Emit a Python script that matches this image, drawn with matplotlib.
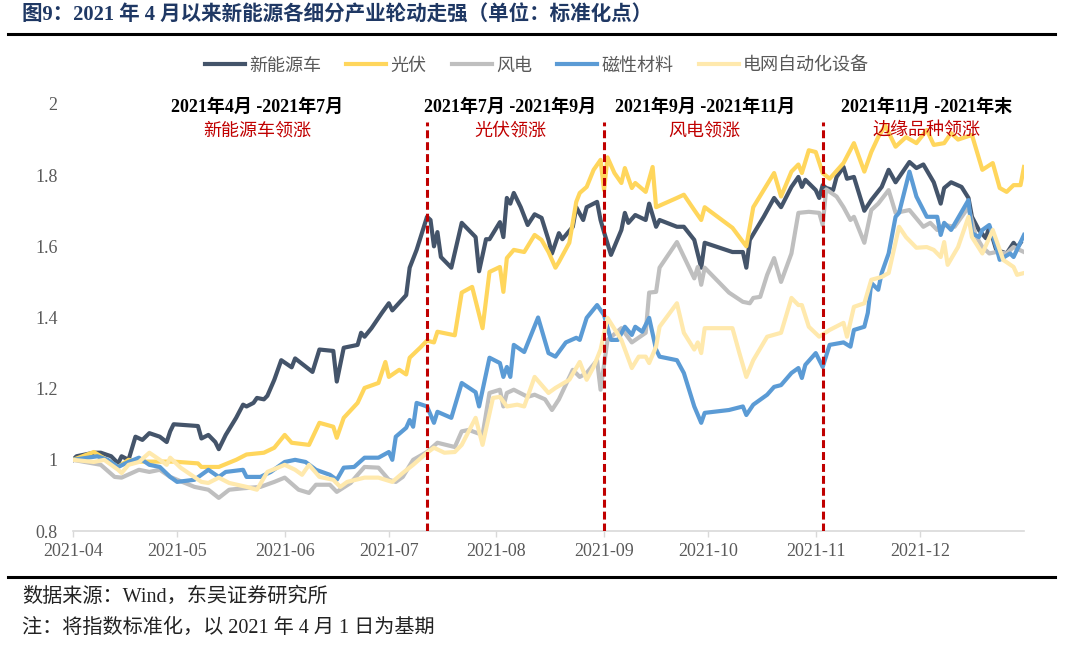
import matplotlib
matplotlib.use('Agg')
import matplotlib.pyplot as plt
import matplotlib.dates as mdates
from matplotlib.lines import Line2D
from matplotlib.ticker import FuncFormatter
import pandas as pd

plt.rcParams['font.family'] = ['Liberation Serif', 'Noto Sans CJK SC']

# standardised index values, (days since 2021-04-01, value)
nev = [(0, 1.00), (1, 1.01), (6, 1.02), (8, 1.02), (11, 1.01), (13, 0.99), (14, 1.01), (16, 1.00),
       (18, 1.065), (20, 1.056), (22, 1.075), (25, 1.065), (27, 1.05), (28, 1.08), (29, 1.10),
       (36, 1.095), (37, 1.06), (39, 1.07), (41, 1.05), (42, 1.03), (44, 1.07), (47, 1.118),
       (49, 1.155), (50, 1.15), (52, 1.16), (53, 1.174), (55, 1.17), (56, 1.18), (58, 1.225),
       (60, 1.28), (63, 1.26), (64, 1.285), (69, 1.247), (71, 1.31), (75, 1.306), (76, 1.22),
       (78, 1.315), (82, 1.323), (83, 1.357), (84, 1.346), (86, 1.37), (89, 1.413), (91, 1.44),
       (92, 1.42), (96, 1.463), (97, 1.54), (99, 1.59), (102, 1.683), (103, 1.674), (104, 1.60),
       (105, 1.64), (106, 1.57), (109, 1.54), (112, 1.666), (116, 1.626), (117, 1.53), (119, 1.62),
       (120, 1.62), (123, 1.668), (124, 1.626), (125, 1.736), (126, 1.72), (127, 1.75), (129, 1.71),
       (131, 1.66), (133, 1.69), (135, 1.68), (137, 1.618), (138, 1.58), (140, 1.637), (141, 1.62),
       (144, 1.655), (145, 1.71), (147, 1.674), (148, 1.71), (151, 1.725), (152, 1.674), (153, 1.64),
       (155, 1.576), (158, 1.646), (159, 1.694), (160, 1.666), (162, 1.688), (165, 1.674), (166, 1.72),
       (168, 1.655), (169, 1.674), (174, 1.655), (176, 1.655), (179, 1.618), (181, 1.54), (182, 1.61),
       (190, 1.584), (193, 1.584), (194, 1.54), (195, 1.618), (199, 1.683), (202, 1.736), (204, 1.71),
       (207, 1.767), (209, 1.795), (210, 1.767), (211, 1.787), (214, 1.758), (215, 1.736), (216, 1.772),
       (217, 1.764), (219, 1.758), (220, 1.795), (222, 1.823), (223, 1.79), (225, 1.795), (228, 1.70),
       (230, 1.73), (233, 1.767), (235, 1.815), (237, 1.78), (241, 1.837), (243, 1.82), (245, 1.83),
       (248, 1.78), (250, 1.72), (251, 1.764), (253, 1.78), (256, 1.767), (258, 1.736), (259, 1.683),
       (261, 1.646), (263, 1.623), (264, 1.655), (266, 1.59), (269, 1.58), (271, 1.61), (272, 1.596),
       (273, 1.61)]

pv = [(0, 1.00), (6, 1.022), (8, 1.01), (13, 0.98), (16, 1.0), (19, 0.995), (29, 0.995), (36, 0.99),
      (37, 0.98), (42, 0.98), (47, 1.0), (50, 1.015), (55, 1.02), (58, 1.034), (61, 1.07), (63, 1.048),
      (68, 1.042), (71, 1.104), (75, 1.093), (76, 1.062), (78, 1.118), (82, 1.16), (84, 1.202),
      (88, 1.216), (90, 1.275), (91, 1.233), (94, 1.253), (96, 1.24), (97, 1.287), (100, 1.315),
      (102, 1.335), (104, 1.33), (105, 1.36), (110, 1.35), (112, 1.47), (115, 1.486), (118, 1.37),
      (120, 1.528), (123, 1.542), (124, 1.472), (125, 1.567), (127, 1.59), (130, 1.584), (133, 1.632),
      (135, 1.618), (137, 1.584), (139, 1.54), (140, 1.556), (143, 1.61), (145, 1.725), (146, 1.75),
      (148, 1.767), (150, 1.815), (152, 1.843), (153, 1.758), (154, 1.85), (156, 1.806), (158, 1.778),
      (159, 1.82), (161, 1.764), (162, 1.778), (165, 1.753), (167, 1.823), (168, 1.71), (174, 1.736),
      (176, 1.745), (179, 1.702), (181, 1.674), (182, 1.71), (190, 1.652), (194, 1.60), (196, 1.71),
      (199, 1.758), (202, 1.806), (204, 1.74), (207, 1.81), (209, 1.83), (210, 1.806), (212, 1.87),
      (214, 1.865), (216, 1.806), (218, 1.79), (222, 1.834), (225, 1.89), (228, 1.81), (230, 1.865),
      (232, 1.907), (234, 1.94), (237, 1.88), (240, 1.907), (243, 1.89), (246, 1.927), (248, 1.885),
      (251, 1.89), (253, 1.918), (255, 1.90), (259, 1.913), (262, 1.815), (265, 1.834), (267, 1.764),
      (269, 1.753), (271, 1.772), (273, 1.772), (274, 1.823)]

wind = [(0, 1.0), (8, 0.986), (12, 0.952), (14, 0.95), (19, 0.972), (22, 0.966), (25, 0.972), (28, 0.952),
        (35, 0.924), (39, 0.916), (42, 0.893), (45, 0.916), (49, 0.92), (54, 0.924), (58, 0.938),
        (61, 0.95), (65, 0.916), (68, 0.907), (70, 0.93), (74, 0.93), (76, 0.91), (80, 0.935),
        (82, 0.958), (84, 0.98), (88, 0.978), (91, 0.944), (93, 0.938), (95, 0.952), (98, 1.0),
        (102, 1.022), (105, 1.048), (110, 1.036), (112, 1.08), (114, 1.084), (118, 1.07), (120, 1.188),
        (123, 1.197), (124, 1.15), (125, 1.188), (127, 1.197), (131, 1.177), (133, 1.183), (136, 1.17),
        (138, 1.14), (140, 1.17), (144, 1.253), (146, 1.233), (148, 1.244), (151, 1.28), (152, 1.197),
        (154, 1.337), (158, 1.37), (161, 1.33), (165, 1.357), (166, 1.47), (168, 1.472), (169, 1.54),
        (174, 1.612), (179, 1.51), (180, 1.542), (181, 1.492), (182, 1.54), (189, 1.47), (193, 1.444),
        (195, 1.44), (196, 1.455), (198, 1.458), (200, 1.52), (202, 1.567), (204, 1.50), (207, 1.58),
        (209, 1.694), (212, 1.697), (215, 1.694), (216, 1.66), (217, 1.76), (220, 1.74), (222, 1.71),
        (224, 1.674), (225, 1.683), (228, 1.61), (230, 1.702), (232, 1.72), (235, 1.758), (237, 1.694),
        (241, 1.702), (245, 1.655), (247, 1.666), (249, 1.646), (251, 1.66), (254, 1.655), (258, 1.71),
        (260, 1.632), (262, 1.598), (264, 1.58), (266, 1.584), (269, 1.58), (271, 1.598), (274, 1.584)]

magnet = [(0, 1.0), (7, 1.01), (10, 1.0), (13, 0.98), (16, 0.994), (19, 1.006), (22, 0.986), (25, 0.98),
          (28, 0.952), (30, 0.938), (35, 0.944), (39, 0.972), (42, 0.952), (44, 0.966), (49, 0.972),
          (50, 0.952), (54, 0.952), (57, 0.966), (61, 0.994), (64, 1.0), (67, 0.994), (70, 0.972),
          (74, 0.958), (76, 0.944), (78, 0.978), (81, 0.98), (84, 1.006), (88, 1.006), (91, 1.022),
          (92, 1.0), (93, 1.065), (96, 1.09), (97, 1.112), (98, 1.093), (99, 1.16), (102, 1.15),
          (104, 1.104), (105, 1.135), (109, 1.118), (112, 1.216), (116, 1.19), (117, 1.15), (120, 1.287),
          (123, 1.272), (124, 1.233), (125, 1.261), (126, 1.233), (127, 1.323), (130, 1.303), (134, 1.40),
          (137, 1.30), (139, 1.29), (142, 1.33), (145, 1.343), (146, 1.337), (148, 1.399), (151, 1.435),
          (153, 1.407), (155, 1.337), (157, 1.337), (159, 1.374), (161, 1.351), (162, 1.374), (164, 1.36),
          (166, 1.399), (168, 1.31), (169, 1.29), (174, 1.28), (176, 1.244), (179, 1.15), (181, 1.104),
          (182, 1.132), (189, 1.14), (193, 1.15), (194, 1.126), (196, 1.155), (200, 1.183), (202, 1.205),
          (204, 1.21), (207, 1.244), (209, 1.258), (210, 1.23), (211, 1.267), (214, 1.30), (216, 1.261),
          (218, 1.323), (222, 1.33), (224, 1.318), (225, 1.365), (228, 1.374), (229, 1.413), (230, 1.497),
          (232, 1.478), (233, 1.525), (235, 1.58), (237, 1.683), (238, 1.694), (241, 1.81), (243, 1.74),
          (246, 1.683), (249, 1.683), (250, 1.632), (251, 1.666), (253, 1.646), (258, 1.73), (259, 1.637),
          (261, 1.626), (262, 1.646), (264, 1.66), (266, 1.598), (267, 1.562), (270, 1.58), (271, 1.57),
          (274, 1.632)]

grid = [(0, 1.0), (6, 0.994), (9, 1.0), (13, 0.972), (14, 0.963), (16, 0.986), (19, 0.994), (22, 1.02),
        (25, 1.0), (27, 0.986), (28, 1.006), (31, 0.978), (37, 0.938), (39, 0.935), (42, 0.95),
        (45, 0.935), (50, 0.924), (53, 0.916), (56, 0.966), (61, 0.986), (64, 0.972), (66, 0.958),
        (68, 0.986), (71, 0.952), (75, 0.944), (77, 0.924), (79, 0.938), (84, 0.95), (88, 0.95),
        (92, 0.938), (95, 0.963), (98, 0.986), (102, 1.02), (104, 1.034), (107, 1.02), (110, 1.022),
        (112, 1.042), (116, 1.118), (118, 1.042), (121, 1.174), (123, 1.177), (125, 1.15), (128, 1.155),
        (130, 1.15), (133, 1.233), (137, 1.188), (139, 1.202), (143, 1.225), (146, 1.275), (148, 1.225),
        (150, 1.261), (152, 1.31), (154, 1.399), (158, 1.337), (161, 1.258), (163, 1.29), (165, 1.29),
        (166, 1.272), (168, 1.318), (169, 1.374), (174, 1.44), (176, 1.357), (179, 1.31), (180, 1.33),
        (181, 1.30), (182, 1.37), (190, 1.37), (192, 1.30), (194, 1.233), (196, 1.28), (200, 1.346),
        (204, 1.357), (207, 1.455), (209, 1.435), (210, 1.435), (212, 1.374), (215, 1.346), (218, 1.365),
        (222, 1.385), (223, 1.346), (225, 1.43), (228, 1.44), (230, 1.506), (233, 1.514), (235, 1.525),
        (238, 1.655), (240, 1.626), (243, 1.596), (246, 1.598), (248, 1.59), (250, 1.57), (251, 1.612),
        (252, 1.548), (255, 1.598), (258, 1.683), (259, 1.626), (262, 1.58), (265, 1.646), (268, 1.562),
        (271, 1.542), (272, 1.52), (274, 1.525)]

labels = ['新能源车', '光伏', '风电', '磁性材料', '电网自动化设备']
colors = ['#44546A', '#FFD65C', '#BFBFBF', '#5B9BD5', '#FFE9AD']

split_dates = ['2021-07-12', '2021-09-01', '2021-11-03']
period_mid = ['2021-05-24', '2021-08-05', '2021-09-30', '2021-12-03']
period_text = ['2021年4月 -2021年7月', '2021年7月 -2021年9月', '2021年9月 -2021年11月', '2021年11月 -2021年末']
leader_text = ['新能源车领涨', '光伏领涨', '风电领涨', '边缘品种领涨']

base = pd.Timestamp('2021-04-01')


def unpack(pairs):
    days, vals = zip(*pairs)
    return base + pd.to_timedelta(list(days), unit='D'), list(vals)


W, H = 1080, 645
fig = plt.figure(figsize=(W / 100, H / 100), dpi=100)
ax = fig.add_axes([73 / W, 1 - 531 / H, (1024 - 73) / W, (531 - 104) / H])

for pairs, lab, col in zip([nev, pv, wind, magnet, grid], labels, colors):
    x, y = unpack(pairs)
    ax.plot(x, y, color=col, lw=3.0, label=lab, solid_joinstyle='round')

ax.vlines(pd.to_datetime(split_dates), 0.8, 1.95, colors='#C00000',
          linestyles=(0, (2.6, 1.3)), lw=2.2, zorder=5)

for d, p, t in zip(period_mid, period_text, leader_text):
    ax.text(pd.Timestamp(d), 1.99, p, ha='center', va='center', fontsize=13,
            fontweight='bold', color='black')
    ax.text(pd.Timestamp(d), 1.925, t, ha='center', va='center', fontsize=13,
            color='#C00000')

ax.set_xlim(base, pd.Timestamp('2021-12-31'))
ax.set_ylim(0.8, 2.0)
ax.set_yticks([0.8, 1.0, 1.2, 1.4, 1.6, 1.8, 2.0])
ax.yaxis.set_major_formatter(FuncFormatter(lambda v, p: '%g' % round(v, 2)))
ax.xaxis.set_major_locator(mdates.MonthLocator())
ax.xaxis.set_major_formatter(mdates.DateFormatter('%Y-%m'))

for s in ['top', 'right', 'left']:
    ax.spines[s].set_visible(False)
ax.spines['bottom'].set_color('#D9D9D9')
ax.spines['bottom'].set_linewidth(1.2)
ax.tick_params(axis='x', length=4, width=1, color='#D9D9D9', pad=5,
               labelsize=13, labelcolor='#595959')
ax.tick_params(axis='y', length=0, pad=11, labelsize=13, labelcolor='#595959')

fig.legend(loc='center', bbox_to_anchor=(537 / W, 1 - 66 / H), ncol=5, frameon=False,
           fontsize=13, labelcolor='#595959', handlelength=2.2, handletextpad=0.25,
           columnspacing=1.4)

fig.text(22 / W, 1 - 16 / H, '图9：2021 年 4 月以来新能源各细分产业轮动走强（单位：标准化点）',
         ha='left', va='center', fontsize=14.8, fontweight='bold', color='#1F3864')
fig.add_artist(Line2D([8 / W, 1055 / W], [1 - 34 / H] * 2, color='black', lw=2.2))
fig.add_artist(Line2D([8 / W, 1055 / W], [1 - 577 / H] * 2, color='black', lw=2.2))
fig.text(22 / W, 1 - 597 / H, '数据来源：Wind，东吴证券研究所', ha='left', va='center',
         fontsize=14.5, color='#222222')
fig.text(22 / W, 1 - 628 / H, '注：将指数标准化，以 2021 年 4 月 1 日为基期', ha='left', va='center',
         fontsize=14.5, color='#222222')

fig.savefig('out.png', dpi=100, facecolor='white')
